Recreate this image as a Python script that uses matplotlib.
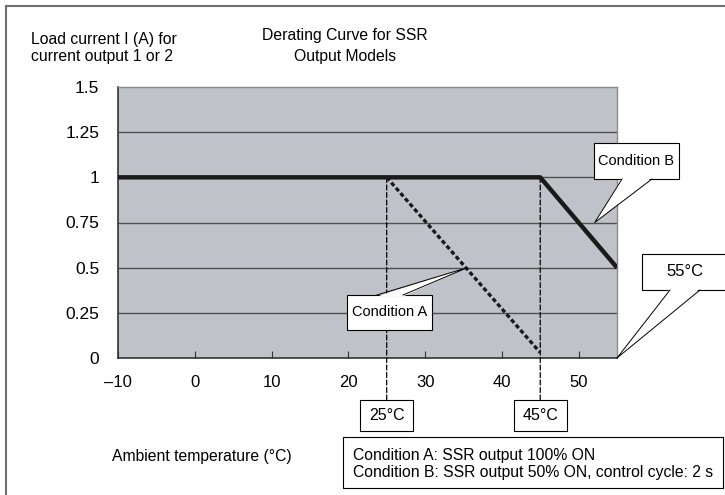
import matplotlib
matplotlib.use('Agg')
import matplotlib.pyplot as plt
from matplotlib.lines import Line2D
from matplotlib.patches import Rectangle, Polygon

plt.rcParams['font.family'] = ['Liberation Sans', 'DejaVu Sans']

# Data
cond_b_temp = [-10, 45, 55]
cond_b_load = [1.0, 1.0, 0.5]
cond_a_temp = [25, 45]
cond_a_load = [1.0, 0.03]

x_ticks = [-10, 0, 10, 20, 30, 40, 50]
y_ticks = [0, 0.25, 0.5, 0.75, 1, 1.25, 1.5]
y_tick_labels = ['0', '0.25', '0.5', '0.75', '1', '1.25', '1.5']

W, H = 725, 495

def fx(px):
    return px / W

def fy(py):
    return 1 - py / H

fig = plt.figure(figsize=(7.25, 4.95), dpi=100)
ax = fig.add_axes([fx(118), fy(358), fx(617) - fx(118), fy(87) - fy(358)])
ax.set_facecolor('#c0c2c9')

ax.set_xlim(-10, 55)
ax.set_ylim(0, 1.5)

# grid
for v in y_ticks[1:-1]:
    ax.axhline(v, color='#505050', lw=1.0, zorder=1)

ax.plot(cond_b_temp, cond_b_load, color='#1a1a1a', lw=3.2, solid_capstyle='butt', zorder=4)
ax.plot(cond_a_temp, cond_a_load, color='#1a1a1a', lw=2.4, dashes=(1.3, 0.8), zorder=4)

ax.set_xticks(x_ticks)
ax.set_xticklabels(['\u2013' + str(-t) if t < 0 else str(t) for t in x_ticks], fontsize=12)
ax.set_yticks(y_ticks)
ax.set_yticklabels(y_tick_labels, fontsize=12.5)
ax.tick_params(axis='x', direction='in', length=5, width=0.8, color='#333333', pad=12)
ax.tick_params(axis='y', length=0, pad=13.5)
for s in ['left', 'bottom']:
    ax.spines[s].set_color('#333333')
    ax.spines[s].set_linewidth(1.2)
for s in ['top', 'right']:
    ax.spines[s].set_color('#8a8a8a')
    ax.spines[s].set_linewidth(1.0)

# titles / labels
fig.text(fx(31), fy(48), 'Load current I (A) for\ncurrent output 1 or 2',
         fontsize=11.3, ha='left', va='center', linespacing=1.2)
fig.text(fx(345), fy(46), 'Derating Curve for SSR\nOutput Models',
         fontsize=11.3, ha='center', va='center', linespacing=1.55)
fig.text(fx(202), fy(457), 'Ambient temperature (\u00b0C)', fontsize=11.3,
         ha='center', va='center')

to_fig = fig.transFigure.inverted()


def pbox(x0, y0, x1, y1, text, size):
    fig.add_artist(Rectangle((fx(x0), fy(y1)), fx(x1) - fx(x0), fy(y0) - fy(y1),
                             transform=fig.transFigure, fc='white', ec='black',
                             lw=0.8, zorder=5))
    fig.text(fx((x0 + x1) / 2), fy((y0 + y1) / 2), text, fontsize=size,
             ha='center', va='center', zorder=8)


def callout(box, text, size, base, tip):
    # box = (x0, y0, x1, y1) in pixels, base = (xa, xb, y) on the box edge
    pbox(*box, text, size)
    tx, ty = to_fig.transform(ax.transData.transform(tip))
    xa, xb, yb = base
    inward = 1.5 if yb == box[3] else -1.5
    fig.add_artist(Polygon([(fx(xa), fy(yb - inward)), (tx, ty), (fx(xb), fy(yb - inward))],
                           closed=True, transform=fig.transFigure, fc='white',
                           ec='none', zorder=6))
    fig.add_artist(Line2D([fx(xa), tx, fx(xb)], [fy(yb), ty, fy(yb)],
                          transform=fig.transFigure, color='black', lw=0.7, zorder=7))


callout((594, 143, 679, 179), 'Condition B', 10.5, (622, 652, 179), (52.1, 0.75))
callout((642, 254, 727, 290), '55\u00b0C', 12, (670, 700, 290), (55, 0))
callout((347, 295, 432, 330), 'Condition A', 10.5, (377, 403, 295), (35.5, 0.5))

# dashed drop lines to temperature labels
for t, lbl in [(cond_a_temp[0], '25\u00b0C'), (cond_b_temp[1], '45\u00b0C')]:
    cx, _ = ax.transData.transform((t, 0))
    cx = cx * W / fig.bbox.width
    pbox(cx - 26.5, 400, cx + 26.5, 431, lbl, 11.5)
    ax.annotate('', xy=(t, 1.0), xytext=(fx(cx), fy(400)),
                textcoords='figure fraction',
                arrowprops=dict(arrowstyle='-', color='black', lw=0.9,
                                linestyle=(0, (4, 2)), shrinkA=0, shrinkB=0),
                annotation_clip=False, zorder=3)

# condition legend box
fig.add_artist(Rectangle((fx(343), fy(488)), fx(723) - fx(343), fy(437) - fy(488),
                         transform=fig.transFigure, fc='white', ec='black', lw=0.8))
fig.text(fx(353), fy(464), 'Condition A: SSR output 100% ON\n'
         'Condition B: SSR output 50% ON, control cycle: 2 s',
         fontsize=11.3, ha='left', va='center', linespacing=1.2)

# outer frame (top and left only)
fig.add_artist(Line2D([fx(6), fx(6)], [0, fy(6)], color='#707070', lw=1.5))
fig.add_artist(Line2D([fx(6), 1], [fy(6), fy(6)], color='#707070', lw=1.5))

fig.savefig('out.png', dpi=100)
